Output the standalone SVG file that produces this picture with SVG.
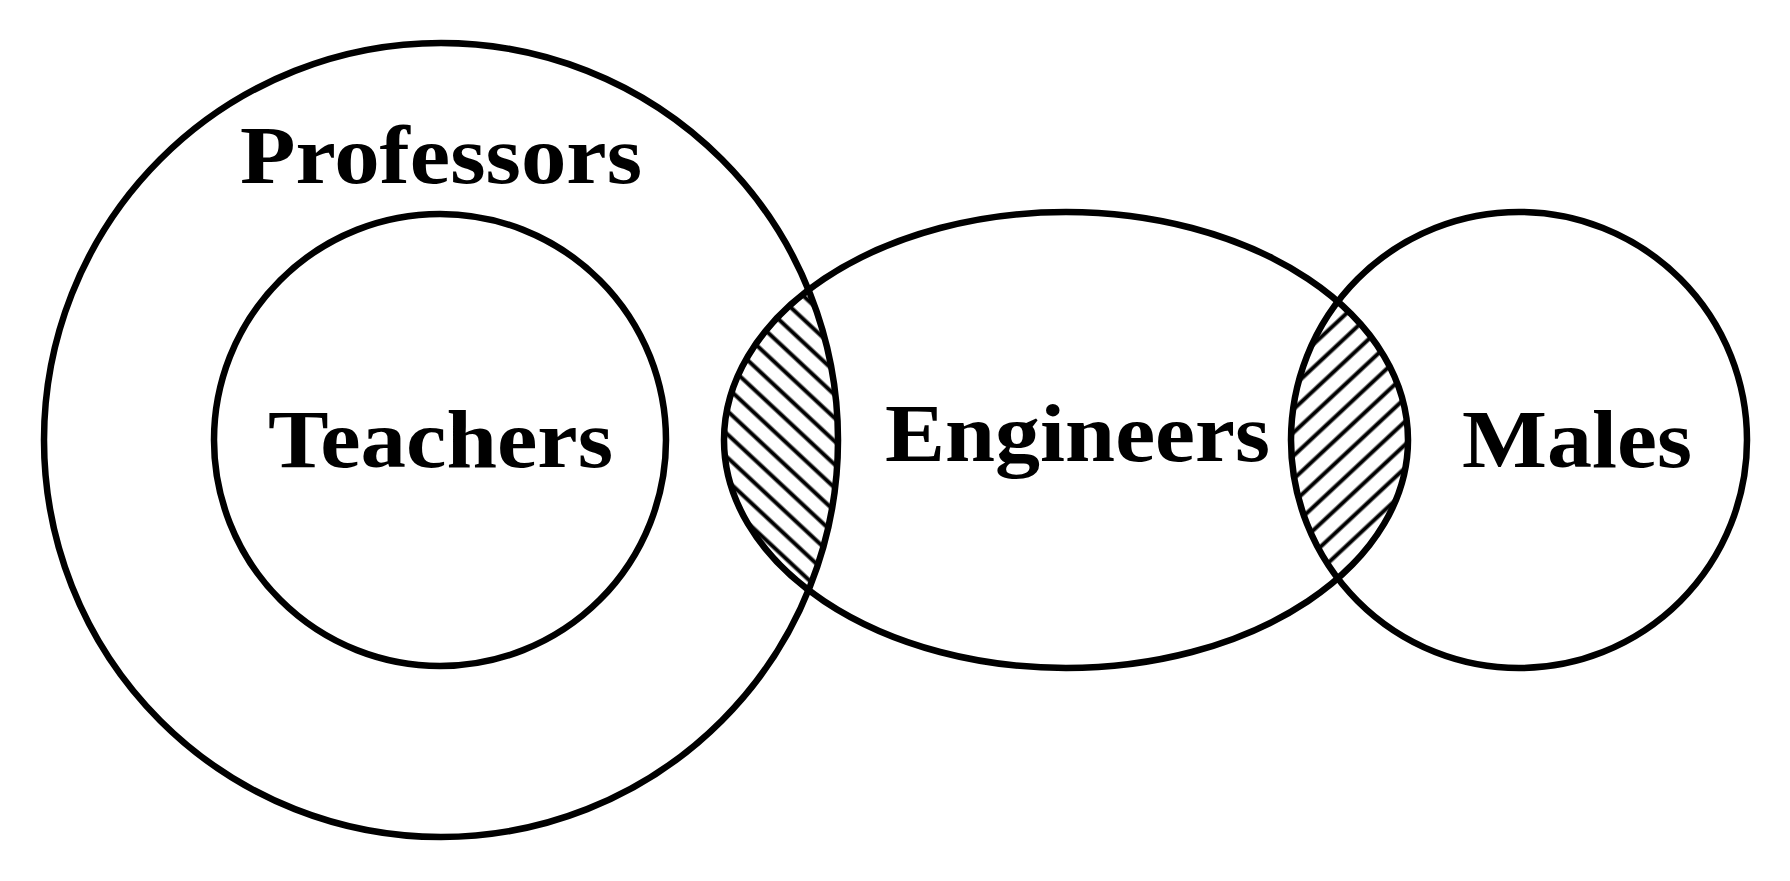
<svg xmlns="http://www.w3.org/2000/svg" width="1790" height="881" viewBox="0 0 1790 881">
<style>
.set{fill:none;stroke:#000;stroke-width:6.5}
.lbl{font-family:"Liberation Serif","DejaVu Serif",serif;font-weight:bold;font-size:82px;fill:#000}
</style>
<defs>
<clipPath id="clipProf"><circle cx="441" cy="440" r="397"/></clipPath>
<clipPath id="clipMales"><circle cx="1519" cy="440" r="228"/></clipPath>
<pattern id="hatchL" patternUnits="userSpaceOnUse" width="17" height="40" patternTransform="rotate(-47)">
<line x1="8.5" y1="-5" x2="8.5" y2="45" stroke="#000" stroke-width="4"/>
</pattern>
<pattern id="hatchR" patternUnits="userSpaceOnUse" width="17" height="40" patternTransform="rotate(47)">
<line x1="8.5" y1="-5" x2="8.5" y2="45" stroke="#000" stroke-width="4"/>
</pattern>
</defs>
<rect width="1790" height="881" fill="#fff"/>
<g id="hatching">
<g clip-path="url(#clipProf)"><ellipse cx="1066" cy="440" rx="342" ry="228" fill="url(#hatchL)"/></g>
<g clip-path="url(#clipMales)"><ellipse cx="1066" cy="440" rx="342" ry="228" fill="url(#hatchR)"/></g>
</g>
<g id="professors">
<circle class="set" cx="441" cy="440" r="397"/>
<text class="lbl" x="240" y="183" textLength="402" lengthAdjust="spacingAndGlyphs">Professors</text>
</g>
<g id="teachers">
<circle class="set" cx="440" cy="440" r="226"/>
<text class="lbl" x="268" y="467" textLength="345" lengthAdjust="spacingAndGlyphs">Teachers</text>
</g>
<g id="engineers">
<ellipse class="set" cx="1066" cy="440" rx="342" ry="228"/>
<text class="lbl" x="885" y="461" textLength="385" lengthAdjust="spacingAndGlyphs">Engineers</text>
</g>
<g id="males">
<circle class="set" cx="1519" cy="440" r="228"/>
<text class="lbl" x="1462" y="467" textLength="230" lengthAdjust="spacingAndGlyphs">Males</text>
</g>
<g id="connectors"/>
</svg>
